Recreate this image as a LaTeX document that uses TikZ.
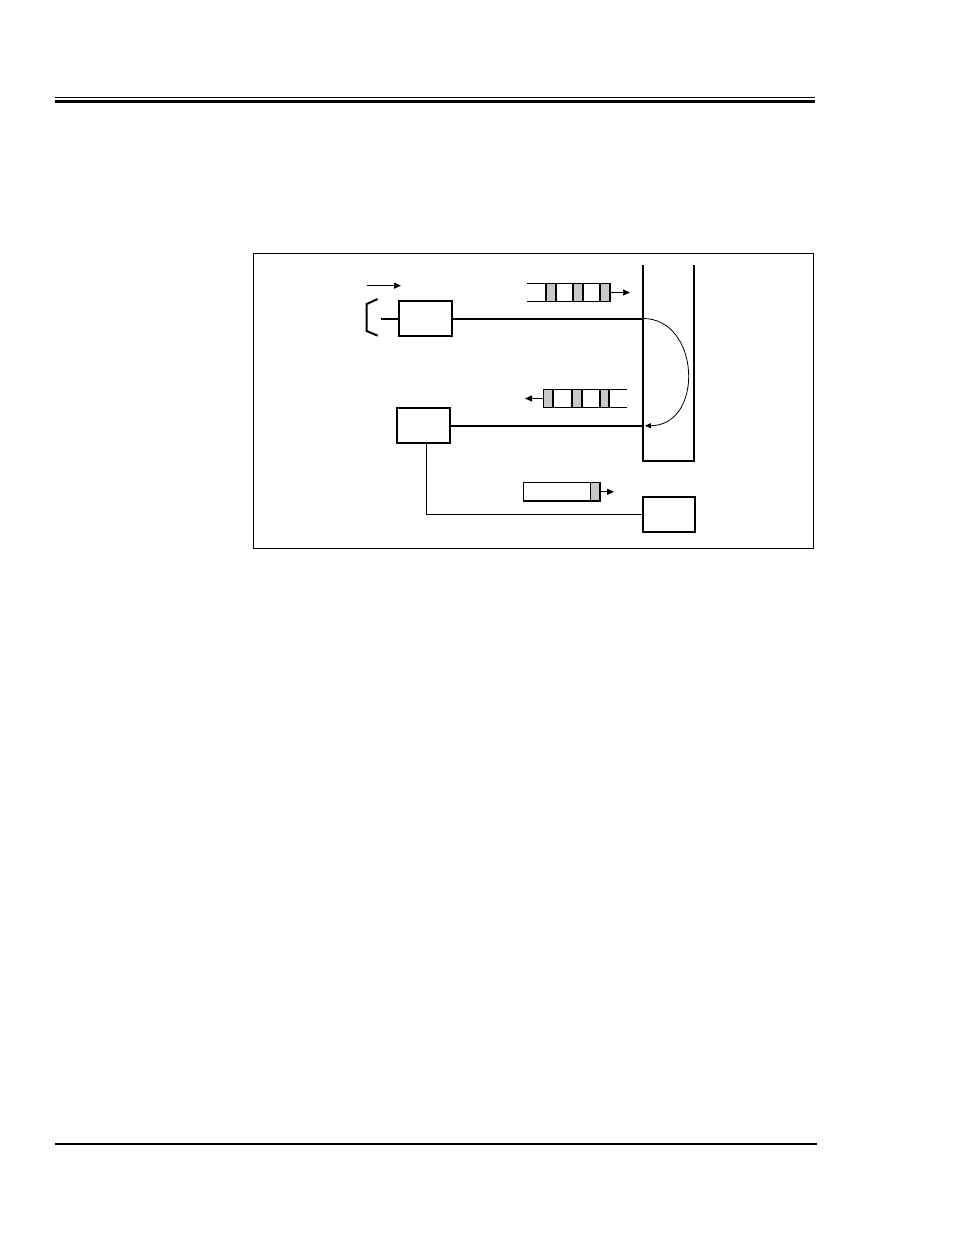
\documentclass[tikz,border=0pt]{standalone}
\usetikzlibrary{arrows.meta}
\definecolor{cellgray}{HTML}{C8C8C8}
\begin{document}
\begin{tikzpicture}[x=1pt,y=-1pt,
  thickline/.style={line width=2pt},
  medline/.style={line width=1.3pt},
  boxnode/.style={draw,line width=2pt,minimum width=#1,inner sep=0pt},
  arr/.style={-{Triangle[length=7pt,width=6pt]},line width=1pt},
  gcell/.style={fill=cellgray,draw,line width=1.3pt},
  wcell/.style={fill=white,draw,line width=1.3pt}]
\useasboundingbox (0,0) rectangle (954,1235);
% header / footer rules
\draw[line width=1pt] (55,97.5) -- (815,97.5);
\draw[line width=3pt] (55,101) -- (815,101);
\draw[line width=2.5pt] (55,1144) -- (817,1144);
% frame
\draw[line width=1pt] (253,253) rectangle (813,548);
% boxes
\node[boxnode=53pt,minimum height=35.5pt] (b1) at (425.5,318.5) {};
\node[boxnode=53pt,minimum height=35pt] (b2) at (423.5,425.8) {};
\node[boxnode=52pt,minimum height=35pt] (b3) at (668.8,514.3) {};
% column
\draw[thickline] (642.7,265) -- (642.7,460.7) -- (694,460.7) -- (694,265);
\coordinate (c1) at (642.7,318.5);
\coordinate (c2) at (642.7,425.8);
\coordinate (c2t) at (645,425.8);
% connections
\draw[thickline] (b1.east) -- (c1);
\draw[thickline] (b2.east) -- (c2);
\coordinate (b2s) at ([xshift=2.8pt]b2.south);
\coordinate (turn) at (b2s |- b3.west);
\draw[line width=1.2pt] (b2s) -- (turn) -- (b3.west);
% return curve
\draw[line width=0.8pt,-{Triangle[length=6pt,width=5pt]}] (c1) .. controls (700,318) and (705,425) .. (c2t);
% input bracket and arrow
\coordinate (bt) at (377.7,299);
\coordinate (bv1) at (366.7,304);
\coordinate (bv2) at (366.7,331);
\coordinate (bb) at (377.7,335.7);
\draw[thickline] (bt) -- (bv1) -- (bv2) -- (bb);
\coordinate (inl) at (381,318.5);
\draw[thickline] (inl) -- (b1.west);
\coordinate (a1s) at (366.7,285.7);
\coordinate (a1e) at (401,285.7);
\draw[arr] (a1s) -- (a1e);
% top queue (to column)
\draw[medline] (527.3,283.3) -- (546,283.3);
\draw[medline] (527.3,301.7) -- (546,301.7);
\draw[gcell] (546,283.3) rectangle (556,301.7);
\draw[wcell] (556,283.3) rectangle (573,301.7);
\draw[gcell] (573,283.3) rectangle (583,301.7);
\draw[wcell] (583,283.3) rectangle (600,301.7);
\draw[gcell] (600,283.3) rectangle (610,301.7);
\coordinate (q1s) at (610,292.5);
\coordinate (q1e) at (630,292.5);
\draw[arr] (q1s) -- (q1e);
% middle queue (from column)
\draw[medline] (609,389.3) -- (627,389.3);
\draw[medline] (609,407.7) -- (627,407.7);
\draw[gcell] (543.3,389.3) rectangle (553,407.7);
\draw[wcell] (553,389.3) rectangle (572,407.7);
\draw[gcell] (572,389.3) rectangle (582,407.7);
\draw[wcell] (582,389.3) rectangle (600,407.7);
\draw[gcell] (600,389.3) rectangle (609,407.7);
\coordinate (q2s) at (543.3,398.5);
\coordinate (q2e) at (525,398.5);
\draw[arr] (q2s) -- (q2e);
% bottom queue
\draw[wcell] (523.3,482.7) rectangle (590.7,501);
\draw[gcell] (590.7,482.7) rectangle (600,501);
\coordinate (q3s) at (600,491.8);
\coordinate (q3e) at (614,491.8);
\draw[arr] (q3s) -- (q3e);
\end{tikzpicture}
\end{document}
